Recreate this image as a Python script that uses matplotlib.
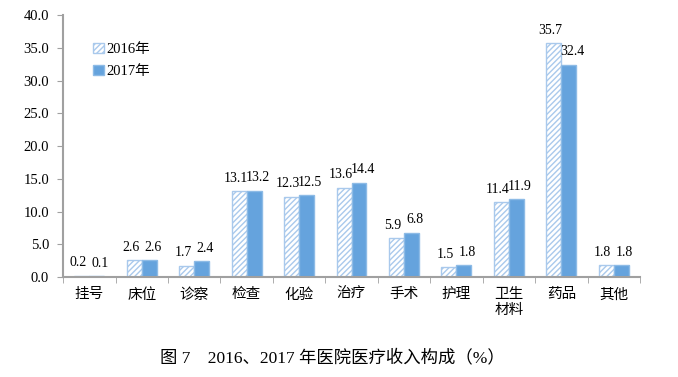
import numpy as np
import matplotlib.pyplot as plt

plt.rcParams['font.family'] = ['Liberation Serif', 'Noto Sans CJK SC']
plt.rcParams['hatch.color'] = '#a9c9ec'
plt.rcParams['hatch.linewidth'] = 1.0

categories = ['挂号', '床位', '诊察', '检查', '化验', '治疗', '手术', '护理', '卫生\n材料', '药品', '其他']
values_2016 = [0.2, 2.6, 1.7, 13.1, 12.3, 13.6, 5.9, 1.5, 11.4, 35.7, 1.8]
values_2017 = [0.1, 2.6, 2.4, 13.2, 12.5, 14.4, 6.8, 1.8, 11.9, 32.4, 1.8]
series_labels = ['2016年', '2017年']

fig = plt.figure(figsize=(6.78, 3.77), dpi=100)
ax = fig.add_axes([0.093, 0.265, 0.851, 0.695])

x = np.arange(len(categories))
w = 0.285
b1 = ax.bar(x - w / 2, values_2016, w, color='white', edgecolor='#a9c9ec',
            hatch='//////', linewidth=1.0, label=series_labels[0])
b2 = ax.bar(x + w / 2, values_2017, w, color='#65a3dd', edgecolor='#8dbbe6',
            linewidth=1.0, label=series_labels[1])

# 数据标签，两个柱子的标签稍向两侧错开
for rect, v in zip(b1, values_2016):
    ax.text(rect.get_x() + rect.get_width() / 2 - 3.5 / 52.5, v + 1.0, '%.1f' % v,
            ha='center', va='bottom', fontsize=10)
for rect, v in zip(b2, values_2017):
    ax.text(rect.get_x() + rect.get_width() / 2 + 3.5 / 52.5, v + 1.0, '%.1f' % v,
            ha='center', va='bottom', fontsize=10)

ax.set_xlim(-0.5, len(categories) - 0.5)
ax.set_ylim(0, 40)
ax.set_yticks(np.arange(0, 40.1, 5))
ax.set_yticklabels(['%.1f' % t for t in np.arange(0, 40.1, 5)], fontsize=10.5)
ax.set_xticks(x)
ax.set_xticklabels(categories, fontsize=10.5, linespacing=1.3)
ax.set_xticks(np.arange(-0.5, len(categories)), minor=True)
ax.tick_params(axis='x', which='major', length=0, pad=8)
ax.tick_params(axis='x', which='minor', length=4, color='#a0a0a0')
ax.tick_params(axis='y', length=4, color='#a0a0a0', pad=6)

for s in ['top', 'right']:
    ax.spines[s].set_visible(False)
for s in ['left', 'bottom']:
    ax.spines[s].set_color('#a0a0a0')
    ax.spines[s].set_linewidth(1.5)

ax.legend(loc='upper left', bbox_to_anchor=(0.03, 0.945), frameon=False,
          fontsize=10.5, handlelength=0.7, handleheight=0.7, handletextpad=0.2,
          labelspacing=0.6)

fig.text(0.49, 0.052, '图 7　2016、2017 年医院医疗收入构成（%）', ha='center',
         va='center', fontsize=12.5)

plt.savefig('out.png')
